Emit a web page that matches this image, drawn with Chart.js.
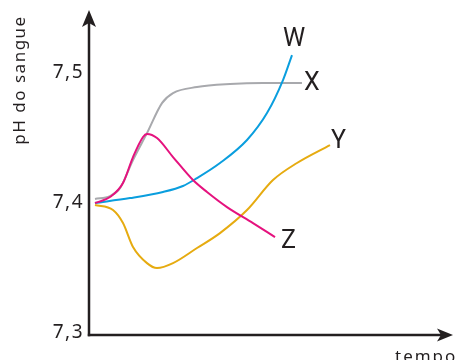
<!DOCTYPE html>
<html><head><meta charset="utf-8">
<script src="https://cdn.jsdelivr.net/npm/chart.js@4/dist/chart.umd.min.js"></script>
<style>html,body{margin:0;padding:0;background:#fff}#wrap{width:455px;height:360px;position:relative}</style>
</head><body><div id="wrap"><canvas id="c"></canvas></div>
<script>
// Data (tempo in arbitrary units 0..100, pH)
const seriesNames = ['W', 'X', 'Y', 'Z'];
const tempoW = [1.65, 11.26, 20.33, 25.82, 29.67, 35.99, 43.41, 48.9, 53.3, 55.77];
const phW    = [7.400, 7.4038, 7.4085, 7.4131, 7.4192, 7.4308, 7.4485, 7.4692, 7.4946, 7.5138];
const tempoX = [1.65, 5.77, 8.52, 12.09, 15.93, 20.05, 23.08, 29.67, 38.74, 47.8, 58.5];
const phX    = [7.4031, 7.4054, 7.4115, 7.4331, 7.4538, 7.4769, 7.4846, 7.4892, 7.4915, 7.4923, 7.4923];
const tempoY = [1.65, 6.59, 9.34, 12.09, 15.93, 18.68, 23.08, 29.67, 35.99, 43.41, 50.55, 57.14, 66.21];
const phY    = [7.3985, 7.3946, 7.3846, 7.3662, 7.3538, 7.350, 7.3538, 7.3654, 7.3769, 7.3946, 7.4177, 7.4308, 7.4446];
const tempoZ = [1.65, 5.77, 9.34, 12.09, 14.84, 15.93, 18.68, 23.08, 28.57, 32.42, 37.91, 45.05, 51.1];
const phZ    = [7.400, 7.4046, 7.4154, 7.4354, 7.4508, 7.4531, 7.450, 7.4354, 7.4177, 7.4085, 7.3969, 7.3846, 7.3738];
const yTicks = [7.3, 7.4, 7.5];
const yTitle = 'pH do sangue';
const xTitle = 'tempo';

const colors = { W: '#0a9ede', X: '#a8a9ad', Y: '#e6ab10', Z: '#e5127e' };
const src = { W: [tempoW, phW], X: [tempoX, phX], Y: [tempoY, phY], Z: [tempoZ, phZ] };
const datasets = seriesNames.map(n => ({
  label: n,
  data: src[n][0].map((t, i) => ({ x: t, y: src[n][1][i] })),
  borderColor: colors[n],
  borderWidth: 2,
  pointRadius: 0,
  fill: false,
  cubicInterpolationMode: 'monotone'
}));
const order = ['X', 'W', 'Y', 'Z'];
datasets.sort((a, b) => order.indexOf(b.label) - order.indexOf(a.label));

const ink = '#231f20';
const labelOffsets = { W: [2, -15, 'center'], X: [2, 1, 'left'], Y: [1, -3, 'left'], Z: [6, 5, 'left'] };

const deco = {
  id: 'deco',
  beforeDraw(chart) { chart.ctx.letterSpacing = '1.5px'; },
  beforeDatasetsDraw(chart) { chart.ctx.letterSpacing = '0px'; },
  afterDatasetsDraw(chart) {
    const ctx = chart.ctx, xs = chart.scales.x, ys = chart.scales.y;
    ctx.save();
    ctx.letterSpacing = '0px';
    ctx.fillStyle = ink;
    ctx.font = '25px Roboto';
    ctx.textBaseline = 'middle';
    seriesNames.forEach(n => {
      const t = src[n][0], p = src[n][1];
      const px = xs.getPixelForValue(t[t.length - 1]);
      const py = ys.getPixelForValue(p[p.length - 1]);
      const o = labelOffsets[n];
      ctx.textAlign = o[2];
      ctx.fillText(n, px + o[0], py + o[1]);
    });
    ctx.restore();
  },
  afterDraw(chart) {
    const ctx = chart.ctx, a = chart.chartArea;
    ctx.save();
    ctx.strokeStyle = ink; ctx.fillStyle = ink; ctx.lineWidth = 2.5;
    ctx.beginPath();
    ctx.moveTo(a.left, a.bottom + 1.2);
    ctx.lineTo(a.left, a.top + 10);
    ctx.stroke();
    ctx.beginPath();
    ctx.moveTo(a.left, a.top);
    ctx.lineTo(a.left + 7, a.top + 17);
    ctx.lineTo(a.left, a.top + 13);
    ctx.lineTo(a.left - 7, a.top + 17);
    ctx.closePath(); ctx.fill();
    ctx.beginPath();
    ctx.moveTo(a.left - 1.2, a.bottom);
    ctx.lineTo(a.right - 10, a.bottom);
    ctx.stroke();
    ctx.beginPath();
    ctx.moveTo(a.right, a.bottom);
    ctx.lineTo(a.right - 16, a.bottom - 6.5);
    ctx.lineTo(a.right - 12, a.bottom);
    ctx.lineTo(a.right - 16, a.bottom + 6.5);
    ctx.closePath(); ctx.fill();
    ctx.font = '17px "Noto Sans"';
    ctx.letterSpacing = '1.5px';
    ctx.textBaseline = 'middle';
    ctx.save();
    ctx.translate(20, 80);
    ctx.rotate(-Math.PI / 2);
    ctx.textAlign = 'center';
    ctx.fillText(yTitle, 0, 0);
    ctx.restore();
    ctx.textAlign = 'left';
    ctx.textBaseline = 'alphabetic';
    ctx.letterSpacing = '2px';
    ctx.fillText(xTitle, 395, 362);
    ctx.restore();
  }
};

new Chart(document.getElementById('c'), {
  type: 'line',
  data: { datasets },
  options: {
    responsive: true,
    maintainAspectRatio: false,
    animation: false,
    layout: { padding: { left: 0, top: 10, right: 2, bottom: 25 } },
    plugins: { legend: { display: false }, tooltip: { enabled: false } },
    scales: {
      x: { type: 'linear', min: 0, max: 100, display: false },
      y: {
        type: 'linear', min: 7.2985, max: 7.5485,
        grid: { display: false, drawTicks: false }, border: { display: false },
        afterBuildTicks(s) { s.ticks = yTicks.map(v => ({ value: v })); },
        afterFit(s) { s.width = 89; s.paddingTop = 0; s.paddingBottom = 0; },
        ticks: {
          color: ink, padding: 5,
          font: { size: 19, family: 'Noto Sans' },
          callback: v => v.toFixed(1).replace('.', ',')
        }
      }
    }
  },
  plugins: [deco]
});
</script>
</body></html>
